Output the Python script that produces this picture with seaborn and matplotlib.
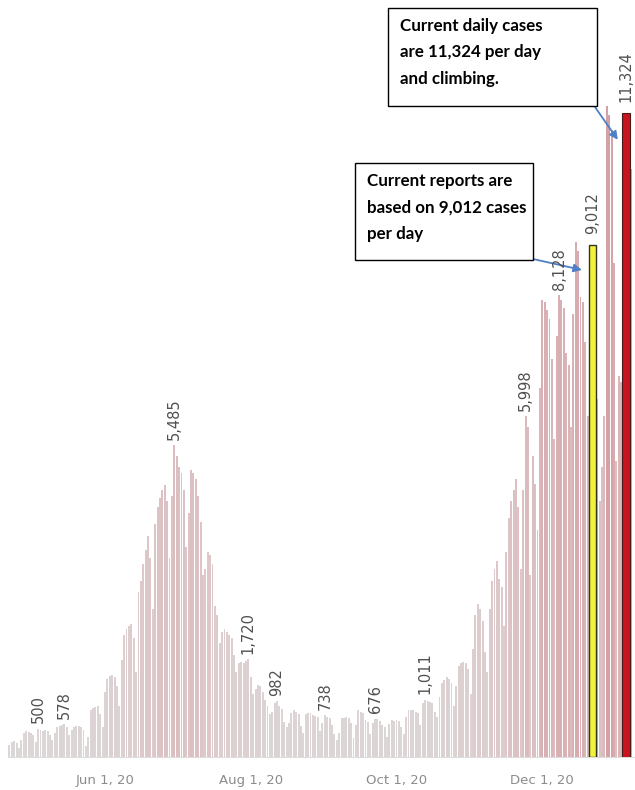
import pandas as pd
import matplotlib
matplotlib.use('Agg')
import matplotlib.pyplot as plt
import seaborn as sns
from matplotlib.colors import LinearSegmentedColormap
from matplotlib.patches import Rectangle

# daily reported cases, one row per week (Mon..Sun), first row starts Wed Apr 22 2020
start_date = '2020-04-22'
daily_cases = [
    210, 260, 280, 240, 150,
    300, 420, 450, 440, 430, 380, 260,
    500, 470, 460, 480, 450, 390, 300,
    420, 520, 540, 560, 578, 520, 380,
    480, 530, 540, 550, 530, 470, 200,
    350, 820, 860, 880, 890, 760, 520,
    1150, 1380, 1420, 1440, 1400, 1250, 900,
    1700, 2150, 2250, 2300, 2340, 2100, 1500,
    2900, 3100, 3400, 3650, 3880, 3500, 2600,
    4100, 4400, 4550, 4700, 4780, 4500, 3500,
    4600, 5485, 5300, 5100, 5000, 4700, 3700,
    4300, 5050, 5000, 4900, 4600, 4140, 3200,
    3300, 3600, 3550, 3400, 2650, 2500, 2000,
    2200, 2250, 2200, 2150, 2100, 1800, 1500,
    1650, 1680, 1650, 1690, 1720, 1400, 1100,
    1200, 1270, 1250, 1150, 1000, 900, 750,
    800, 950, 982, 900, 850, 620, 520,
    600, 780, 830, 800, 760, 550, 420,
    760, 780, 770, 740, 720, 700, 450,
    600, 738, 700, 690, 560, 400, 300,
    420, 680, 690, 700, 680, 600, 340,
    560, 830, 800, 780, 650, 620, 400,
    600, 676, 660, 640, 560, 530, 350,
    580, 650, 640, 650, 630, 520, 400,
    700, 820, 830, 830, 800, 780, 560,
    950, 1011, 990, 960, 950, 800, 700,
    1050, 1300, 1350, 1400, 1380, 1300, 900,
    1250, 1600, 1650, 1680, 1650, 1550, 1100,
    1900, 2500, 2690, 2600, 2400, 1840, 1500,
    2600, 3100, 3300, 3450, 3130, 3000, 2300,
    3600, 4200, 4500, 4700, 4900, 4400, 3300,
    4700, 5998, 5800, 3200, 5300, 4800, 4000,
    6500, 8050, 8000, 7860, 7700, 7000, 5600,
    7400, 8128, 8050, 7900, 7100, 6900, 5800,
    7800, 9060, 8900, 8090, 8000, 7300, 6000,
    7500, 9012, 8030, 6300, 4500, 5100, 6000,
    11450, 11300, 11040, 8700, 5200, 6700, 6600,
    9500, 11324, 10800, 10350,
]

tick_dates = ['2020-06-01', '2020-08-01', '2020-10-01', '2020-12-01']
tick_labels = ['Jun 1, 20', 'Aug 1, 20', 'Oct 1, 20', 'Dec 1, 20']
label_dates = ['2020-05-04', '2020-05-15', '2020-06-30', '2020-07-31',
               '2020-08-12', '2020-09-01', '2020-09-22', '2020-10-13',
               '2020-11-24', '2020-12-08', '2020-12-22', '2021-01-05']
reported_date = '2020-12-22'
current_date = '2021-01-05'

df = pd.DataFrame({'date': pd.date_range(start_date, periods=len(daily_cases)),
                   'cases': daily_cases})
df['day'] = range(len(df))

def day_of(d):
    return int(df.loc[df['date'] == pd.Timestamp(d), 'day'].iloc[0])

sns.set_style('white')
plt.rcParams['font.family'] = ['DejaVu Sans']

cmap = LinearSegmentedColormap.from_list('cases', ['#dcd8d8', '#ddc6c8', '#d9b1b4', '#d4a1a5'])

fig = plt.figure(figsize=(6.35, 7.9), dpi=100)
ax = fig.add_axes([8 / 635, 33 / 790, 627 / 635, 757 / 790])

sns.barplot(data=df, x='day', y='cases', hue='cases', palette=cmap, hue_norm=(0, 11500),
            legend=False, saturation=1, width=0.8, dodge=False, errorbar=None,
            linewidth=0, edgecolor='none', ax=ax)

# highlighted bars
rep = day_of(reported_date)
cur = day_of(current_date)
ax.bar(rep, df.loc[rep, 'cases'], width=3.3, color='#f2f23c', edgecolor='#333322', linewidth=1, zorder=3)
ax.bar(cur, df.loc[cur, 'cases'], width=3.3, color='#c8141f', edgecolor='#4a1a1a', linewidth=0.8, zorder=3)

# value labels
for d in label_dates:
    i = day_of(d)
    v = df.loc[i, 'cases']
    off = 8 if i in (rep, cur) else 4
    ax.annotate(f'{v:,}', xy=(i, v), xytext=(0, off), textcoords='offset points',
                rotation=90, ha='center', va='bottom', fontsize=10.5, color='#505050', zorder=4)

ax.set_xlim(-0.6, 261.8)
ax.set_ylim(0, 13320)
ax.set_xticks([day_of(d) for d in tick_dates], tick_labels)
ax.set_yticks([])
ax.tick_params(axis='x', length=0, pad=12, labelsize=9.5, labelcolor='#8c8c8c')
ax.set_xlabel('')
ax.set_ylabel('')
for s in ['left', 'right', 'top']:
    ax.spines[s].set_visible(False)
ax.spines['bottom'].set_color('#dddddd')
ax.spines['bottom'].set_linewidth(0.8)

# callout boxes
def callout(x0, y0, x1, y1, text, tx, ty):
    fig.add_artist(Rectangle((x0 / 635, 1 - y1 / 790), (x1 - x0) / 635, (y1 - y0) / 790,
                             transform=fig.transFigure, facecolor='white',
                             edgecolor='black', linewidth=1, zorder=5))
    fig.text(tx / 635, 1 - ty / 790, text, ha='left', va='top', fontsize=12.2,
             fontweight='bold', family='Lato', linespacing=1.8, color='black', zorder=6)

callout(388, 8, 597, 106, 'Current daily cases\nare 11,324 per day\nand climbing.', 400, 18)
callout(355, 163, 533, 260, 'Current reports are\nbased on 9,012 cases\nper day', 367, 173)

arrow = dict(arrowstyle='-|>', color='#4f7fc6', lw=1.3, mutation_scale=12, shrinkA=0, shrinkB=0)
ax.annotate('', xy=(cur - 3.4, 10860), xycoords='data', xytext=(595 / 635, 1 - 107 / 790),
            textcoords='figure fraction', arrowprops=arrow, annotation_clip=False)
ax.annotate('', xy=(rep - 4.4, 8570), xycoords='data', xytext=(533 / 635, 1 - 259 / 790),
            textcoords='figure fraction', arrowprops=arrow, annotation_clip=False)

fig.savefig('out.png', dpi=100)
